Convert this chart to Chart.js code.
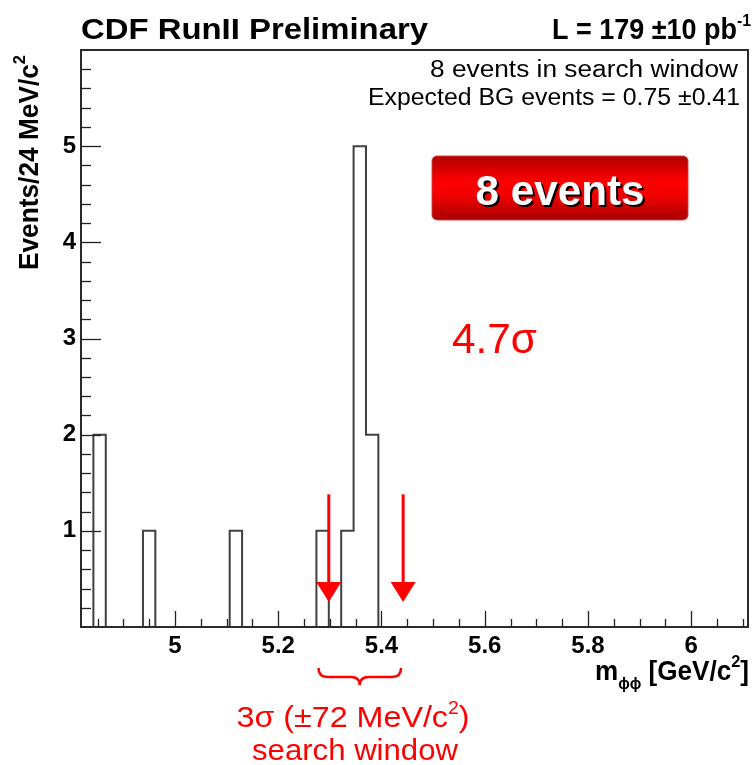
<!DOCTYPE html>
<html><head><meta charset="utf-8">
<script src="https://cdn.jsdelivr.net/npm/chart.js@4.4.1/dist/chart.umd.min.js"></script>
<style>html,body{margin:0;padding:0;background:#fff;}canvas{display:block;}</style>
</head><body>
<canvas id="c" width="755" height="765"></canvas>
<script>
// ---- data ----
const binWidth = 0.024;                 // GeV (24 MeV bins)
const xRange = [4.818, 6.11];
const yRange = [0, 6];
const binLowEdges = [4.842, 4.938, 5.106, 5.274, 5.322, 5.346, 5.370];
const binCounts   = [2, 1, 1, 1, 1, 5, 2];
const xTickValues = [5, 5.2, 5.4, 5.6, 5.8, 6];
const xTickLabels = ['5', '5.2', '5.4', '5.6', '5.8', '6'];
const yTickValues = [1, 2, 3, 4, 5];
const yTickLabels = ['1', '2', '3', '4', '5'];
const windowCenter = 5.37;
const windowHalfWidth = 0.072;
const arrowTopY = 1.38, arrowTipY = 0.26;
const braceRange = [5.278, 5.438];

// ---- build histogram outline ----
const pts = [{x: xRange[0], y: 0}];
binLowEdges.forEach((lo, i) => {
  const c = binCounts[i];
  const hi = lo + binWidth;
  const contPrev = i > 0 && Math.abs(binLowEdges[i-1] + binWidth - lo) < 1e-9;
  const contNext = i < binLowEdges.length - 1 && Math.abs(binLowEdges[i+1] - hi) < 1e-9;
  if (!contPrev) pts.push({x: lo, y: 0});
  pts.push({x: lo, y: c});
  pts.push({x: hi, y: c});
  if (!contNext) pts.push({x: hi, y: 0});
});
pts.push({x: xRange[1], y: 0});

const FF = '"Liberation Sans", Arial, Helvetica, sans-serif';

function drawRich(ctx, parts, x, y, targetW, align, color) {
  ctx.save();
  ctx.fillStyle = color;
  ctx.textBaseline = 'alphabetic';
  ctx.textAlign = 'left';
  let total = 0;
  parts.forEach(p => { ctx.font = p.font; p.w = ctx.measureText(p.t).width; total += p.w; });
  const s = targetW / total;
  let x0 = align === 'right' ? x - targetW : align === 'center' ? x - targetW / 2 : x;
  ctx.translate(x0, y);
  ctx.scale(s, 1);
  let cx = 0;
  parts.forEach(p => {
    ctx.font = p.font;
    if (p.shadow) { ctx.fillStyle = p.shadow; ctx.fillText(p.t, cx + 2/s, (p.dy || 0) + 2); ctx.fillStyle = color; }
    ctx.fillText(p.t, cx, p.dy || 0);
    cx += p.w;
  });
  ctx.restore();
}

const decor = {
  id: 'decor',
  beforeDraw(chart) {
    const ctx = chart.ctx;
    ctx.save(); ctx.fillStyle = '#fff'; ctx.fillRect(0, 0, chart.width, chart.height); ctx.restore();
  },
  afterDatasetsDraw(chart) {
    const ctx = chart.ctx, a = chart.chartArea;
    const xs = chart.scales.x, ys = chart.scales.y;
    ctx.save();
    // frame
    ctx.strokeStyle = '#2a2a2a'; ctx.lineWidth = 2;
    ctx.strokeRect(a.left, a.top, a.right - a.left, a.bottom - a.top);
    // y ticks
    ctx.lineWidth = 1.3; ctx.strokeStyle = '#222';
    for (let k = 1; k < 30; k++) {
      const v = k * 0.2;
      const py = Math.round(ys.getPixelForValue(v)) + 0.5;
      const len = (k % 5 === 0) ? 20 : 10;
      ctx.beginPath(); ctx.moveTo(a.left, py); ctx.lineTo(a.left + len, py); ctx.stroke();
    }
    // x ticks
    for (let k = 97; k <= 122; k++) {
      const v = k * 0.05;
      const px = Math.round(xs.getPixelForValue(v)) + 0.5;
      const len = (k % 4 === 0) ? 16 : 8;
      ctx.beginPath(); ctx.moveTo(px, a.bottom); ctx.lineTo(px, a.bottom - len); ctx.stroke();
    }
    // arrows at search window edges
    ctx.strokeStyle = '#ff0000'; ctx.fillStyle = '#ff0000'; ctx.lineWidth = 3;
    [windowCenter - windowHalfWidth, windowCenter + windowHalfWidth].forEach(v => {
      const px = xs.getPixelForValue(v);
      const yTop = ys.getPixelForValue(arrowTopY);
      const yTip = ys.getPixelForValue(arrowTipY);
      const yBase = yTip - 20;
      ctx.beginPath(); ctx.moveTo(px, yTop); ctx.lineTo(px, yBase); ctx.stroke();
      ctx.beginPath(); ctx.moveTo(px - 12.5, yBase); ctx.lineTo(px + 12.5, yBase); ctx.lineTo(px, yTip); ctx.closePath(); ctx.fill();
    });
    // brace under the axis
    const bx1 = xs.getPixelForValue(braceRange[0]), bx2 = xs.getPixelForValue(braceRange[1]);
    const bm = (bx1 + bx2) / 2;
    ctx.lineWidth = 2.5; ctx.strokeStyle = '#ff0000';
    ctx.beginPath();
    ctx.moveTo(bx1, 668);
    ctx.quadraticCurveTo(bx1, 677, bx1 + 9, 677);
    ctx.lineTo(bm - 9, 677);
    ctx.quadraticCurveTo(bm, 677, bm, 685);
    ctx.quadraticCurveTo(bm, 677, bm + 9, 677);
    ctx.lineTo(bx2 - 9, 677);
    ctx.quadraticCurveTo(bx2, 677, bx2, 668);
    ctx.stroke();
    // red box
    const g = ctx.createLinearGradient(0, 156, 0, 220);
    g.addColorStop(0, '#b00000'); g.addColorStop(0.4, '#ff0000'); g.addColorStop(0.62, '#f20000'); g.addColorStop(1, '#a80000');
    ctx.fillStyle = g;
    ctx.beginPath(); ctx.roundRect(432, 156, 256, 64, 5); ctx.fill();
    ctx.strokeStyle = 'rgba(210,60,60,0.9)'; ctx.lineWidth = 1; ctx.stroke();
    ctx.restore();

    // texts
    drawRich(ctx, [{t: '8 events', font: 'bold 42px ' + FF, shadow: '#000'}], 560, 205, 169, 'center', '#ffffff');
    drawRich(ctx, [{t: '4.7σ', font: '42px ' + FF}], 452, 353, 85, 'left', '#ff0000');
    drawRich(ctx, [{t: 'CDF RunII Preliminary', font: 'bold 29px ' + FF}], 81, 39, 347, 'left', '#000');
    drawRich(ctx, [{t: 'L = 179 ±10 pb', font: 'bold 29px ' + FF}, {t: '-1', font: 'bold 17px ' + FF, dy: -13}], 751, 39, 199, 'right', '#000');
    drawRich(ctx, [{t: '8 events in search window', font: '23px ' + FF}], 738, 77, 308, 'right', '#000');
    drawRich(ctx, [{t: 'Expected BG events = 0.75 ±0.41', font: '23px ' + FF}], 740, 105, 372, 'right', '#000');
    drawRich(ctx, [{t: 'm', font: 'bold 27px ' + FF}, {t: 'ϕϕ', font: 'bold 16px ' + FF, dy: 9},
                   {t: ' [GeV/c', font: 'bold 27px ' + FF}, {t: '2', font: 'bold 17px ' + FF, dy: -13},
                   {t: ']', font: 'bold 27px ' + FF}], 749, 680, 154, 'right', '#000');
    drawRich(ctx, [{t: '3σ (±72 MeV/c', font: '30px ' + FF}, {t: '2', font: '18px ' + FF, dy: -13},
                   {t: ')', font: '30px ' + FF}], 353, 727, 233, 'center', '#ff0000');
    drawRich(ctx, [{t: 'search window', font: '30px ' + FF}], 355, 760, 206, 'center', '#ff0000');
    // y title rotated
    ctx.save();
    ctx.translate(38, 270);
    ctx.rotate(-Math.PI / 2);
    drawRich(ctx, [{t: 'Events/24 MeV/c', font: 'bold 27px ' + FF}, {t: '2', font: 'bold 17px ' + FF, dy: -13}], 0, 0, 215, 'left', '#000');
    ctx.restore();
  }
};

new Chart(document.getElementById('c'), {
  type: 'scatter',
  data: { datasets: [{
    data: pts, showLine: true, pointRadius: 0, borderColor: '#404040', borderWidth: 2,
    fill: false, tension: 0
  }]},
  options: {
    responsive: false, animation: false, devicePixelRatio: 1,
    layout: { padding: { top: 50, right: 7, left: 0, bottom: 0 } },
    plugins: { legend: { display: false }, tooltip: { enabled: false } },
    scales: {
      x: {
        type: 'linear', min: xRange[0], max: xRange[1],
        afterBuildTicks: s => { s.ticks = xTickValues.map(v => ({value: v})); },
        afterFit: s => { s.height = 765 - 627; },
        ticks: { autoSkip: false, maxRotation: 0, padding: 5, color: '#000',
                 font: { family: FF, size: 24, weight: 'bold' },
                 callback: v => xTickLabels[xTickValues.indexOf(v)] ?? '' },
        grid: { display: false, drawTicks: false }, border: { display: false }
      },
      y: {
        type: 'linear', min: yRange[0], max: yRange[1],
        afterBuildTicks: s => { s.ticks = yTickValues.map(v => ({value: v})); },
        afterFit: s => { s.width = 81; },
        ticks: { padding: 5, color: '#000',
                 font: { family: FF, size: 24, weight: 'bold' },
                 callback: v => yTickLabels[yTickValues.indexOf(v)] ?? '' },
        grid: { display: false, drawTicks: false }, border: { display: false }
      }
    }
  },
  plugins: [decor]
});
</script>
</body></html>
